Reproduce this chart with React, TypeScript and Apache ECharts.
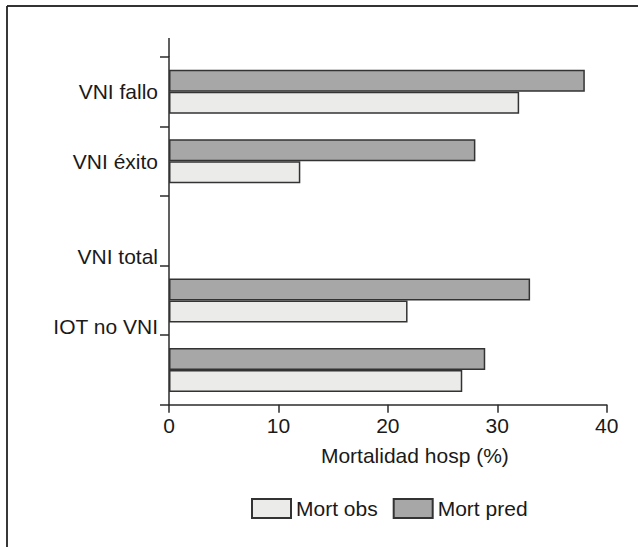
import React, { useEffect, useRef } from "react";
import * as echarts from "echarts";

const categories = ["VNI fallo", "VNI éxito", "", "VNI total", "IOT no VNI"];
const mortObs = [32, 12, null, 21.8, 26.8];
const mortPred = [38, 28, null, 33, 28.9];
const xTicks = [0, 10, 20, 30, 40];

const FONT = "Liberation Sans, Arial, Helvetica, sans-serif";
const TEXT = "#1a1a1a";
const LINE = "#2b2b2b";

export default function App() {
  const ref = useRef<HTMLDivElement>(null);
  useEffect(() => {
    if (!ref.current) return;
    const chart = echarts.init(ref.current, undefined, { renderer: "svg" });
    const option: any = {
      animation: false,
      backgroundColor: "#ffffff",
      textStyle: { fontFamily: FONT },
      grid: { left: 169, right: 31.3, top: 57, bottom: 142.3, containLabel: false },
      legend: {
        data: ["Mort obs", "Mort pred"],
        left: 251,
        top: 498,
        padding: 0,
        itemWidth: 39,
        itemHeight: 19,
        itemGap: 15,
        icon: "rect",
        textStyle: { fontSize: 21, color: TEXT, fontFamily: FONT },
      },
      xAxis: {
        type: "value",
        min: xTicks[0],
        max: xTicks[xTicks.length - 1],
        interval: 10,
        name: "Mortalidad hosp (%)",
        nameLocation: "middle",
        nameGap: 40,
        nameTextStyle: { fontSize: 21, color: TEXT, fontFamily: FONT, padding: [0, 0, 0, 54] },
        axisLine: { show: true, lineStyle: { color: LINE, width: 1.5 } },
        axisTick: { show: true, length: 8, lineStyle: { color: LINE, width: 1.5 } },
        axisLabel: { fontSize: 21, color: TEXT, margin: 10, fontFamily: FONT },
        splitLine: { show: false },
      },
      yAxis: {
        type: "category",
        data: categories,
        inverse: true,
        axisLine: { show: true, lineStyle: { color: LINE, width: 1.5 } },
        axisTick: { show: true, length: 9, lineStyle: { color: LINE, width: 1.5 } },
        axisLabel: {
          interval: 0,
          margin: 11,
          fontSize: 21,
          color: TEXT,
          fontFamily: FONT,
          formatter: (v: string, i: number) => {
            if (i === 3) return "{up1|" + v + "}";
            if (i === 4) return "{up2|" + v + "}";
            return v;
          },
          rich: {
            up1: { fontSize: 21, color: TEXT, fontFamily: FONT, padding: [0, 0, 88, 0] },
            up2: { fontSize: 21, color: TEXT, fontFamily: FONT, padding: [0, 0, 86, 0] },
          },
        },
      },
      graphic: [
        { type: "line", shape: { x1: 7, y1: 6, x2: 638, y2: 6 }, style: { stroke: "#333", lineWidth: 1.8 } },
        { type: "line", shape: { x1: 7, y1: 6, x2: 7, y2: 547 }, style: { stroke: "#222", lineWidth: 1.8 } },
        { type: "line", shape: { x1: 169, y1: 38, x2: 169, y2: 57 }, style: { stroke: LINE, lineWidth: 1.5 } },
      ],
      series: [
        {
          name: "Mort pred",
          type: "bar",
          data: mortPred,
          barWidth: 22,
          barGap: "0%",
          itemStyle: { color: "#a7a7a7", borderColor: "#333333", borderWidth: 1.5 },
        },
        {
          name: "Mort obs",
          type: "bar",
          data: mortObs,
          barWidth: 22,
          barGap: "0%",
          itemStyle: { color: "#ebebe9", borderColor: "#333333", borderWidth: 1.5 },
        },
      ],
    };
    chart.setOption(option);
    return () => chart.dispose();
  }, []);
  return (
    <div
      ref={ref}
      style={{ position: "fixed", left: 0, top: 0, width: 638, height: 547, background: "#fff" }}
    />
  );
}
